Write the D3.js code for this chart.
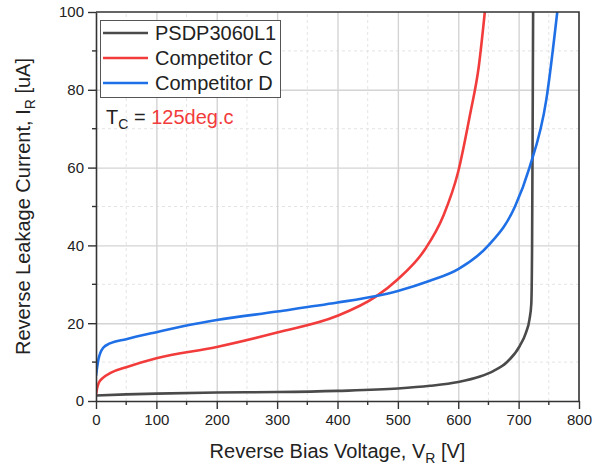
<!DOCTYPE html>
<html lang="en">
  <head>
    <meta charset="utf-8">
    <title>Reverse Leakage Current vs Reverse Bias Voltage</title>
    <script type="text/javascript" src="https://cdn.jsdelivr.net/npm/d3@7"></script>
    <style type="text/css">
      body { margin: 0; background: #fff; }
      text { font-family: "Liberation Sans", Arial, sans-serif; }
    </style>
  </head>
  <body>
    <script type="text/javascript">

      //Width and height
      var w = 599;
      var h = 468;
      var margin = { top: 12, right: 20, bottom: 67, left: 96 };

      //Series names and colors
      var seriesNames = ["PSDP3060L1", "Competitor C", "Competitor D"];
      var seriesColors = ["#4a4a4a", "#f23c3c", "#1f6fe6"];

      //PSDP3060L1
      var psdpV = [0, 50, 100, 200, 300, 400, 500, 553, 600, 636, 658, 680, 702, 712, 718, 721, 722.3, 723.2, 724];
      var psdpI = [1.4, 1.7, 1.9, 2.2, 2.3, 2.6, 3.2, 3.9, 4.9, 6.3, 7.7, 9.9, 14.2, 17.5, 21, 25, 40, 70, 100];

      //Competitor C
      var compCV = [0, 2, 5, 12, 25, 50, 100, 200, 300, 400, 464, 500, 545, 575, 600, 620, 634, 644];
      var compCI = [1.6, 3.4, 4.8, 6.0, 7.3, 8.7, 11.0, 13.9, 17.6, 21.9, 26.9, 31.3, 39, 47.5, 59, 74, 86, 100];

      //Competitor D
      var compDV = [0, 4, 12, 23, 50, 100, 150, 200, 300, 400, 464, 500, 553, 600, 650, 694, 718, 746, 764];
      var compDI = [6.5, 10.7, 13.7, 14.8, 15.9, 17.7, 19.4, 20.8, 23, 25.3, 27, 28.3, 30.9, 33.9, 40, 50, 60, 77.6, 100];

      //Axis ticks
      var xTicks = [0, 100, 200, 300, 400, 500, 600, 700, 800];
      var xMinor = [50, 150, 250, 350, 450, 550, 650, 750];
      var yTicks = [0, 20, 40, 60, 80, 100];
      var yMinor = [10, 30, 50, 70, 90];

      var seriesV = [psdpV, compCV, compDV];
      var seriesI = [psdpI, compCI, compDI];
      var series = seriesNames.map(function(name, k) {
        return {
          name: name,
          color: seriesColors[k],
          points: seriesV[k].map(function(v, i) { return [v, seriesI[k][i]]; })
        };
      });

      var x = d3.scaleLinear().domain([0, 800]).range([margin.left, w - margin.right]);
      var y = d3.scaleLinear().domain([0, 100]).range([h - margin.bottom, margin.top]);

      //Create SVG element
      var svg = d3.select("body")
                  .append("svg")
                  .attr("width", w)
                  .attr("height", h);

      //Minor grid (dashed)
      svg.selectAll("line.xminor")
         .data(xMinor)
         .enter()
         .append("line")
         .attr("x1", function(d) { return x(d); })
         .attr("x2", function(d) { return x(d); })
         .attr("y1", y(0))
         .attr("y2", y(100))
         .style("stroke", "#e4e4e4")
         .style("stroke-dasharray", "3,3")
         .style("stroke-width", 1);

      svg.selectAll("line.yminor")
         .data(yMinor)
         .enter()
         .append("line")
         .attr("x1", x(0))
         .attr("x2", x(800))
         .attr("y1", function(d) { return y(d); })
         .attr("y2", function(d) { return y(d); })
         .style("stroke", "#e4e4e4")
         .style("stroke-dasharray", "3,3")
         .style("stroke-width", 1);

      //Major grid
      svg.append("g")
         .attr("class", "grid")
         .attr("transform", "translate(0," + y(0) + ")")
         .call(d3.axisBottom(x).tickValues(xTicks.slice(1, -1)).tickSize(-(y(0) - y(100))).tickFormat(""))
         .call(function(g) { g.select(".domain").remove(); });

      svg.append("g")
         .attr("class", "grid")
         .attr("transform", "translate(" + x(0) + ",0)")
         .call(d3.axisLeft(y).tickValues(yTicks.slice(1, -1)).tickSize(-(x(800) - x(0))).tickFormat(""))
         .call(function(g) { g.select(".domain").remove(); });

      svg.selectAll(".grid line")
         .style("stroke", "#d4d4d4")
         .style("stroke-width", 1.4);

      //Curves
      svg.append("clipPath")
         .attr("id", "plot-clip")
         .append("rect")
         .attr("x", x(0))
         .attr("y", y(100))
         .attr("width", x(800) - x(0))
         .attr("height", y(0) - y(100));

      var line = d3.line()
                   .x(function(d) { return x(d[0]); })
                   .y(function(d) { return y(d[1]); })
                   .curve(d3.curveMonotoneX);

      svg.append("g")
         .attr("clip-path", "url(#plot-clip)")
         .selectAll("path")
         .data(series)
         .enter()
         .append("path")
         .attr("d", function(d) { return line(d.points); })
         .style("fill", "none")
         .style("stroke", function(d) { return d.color; })
         .style("stroke-width", 2.6)
         .style("stroke-linejoin", "round");

      //Axes
      var xAxis = svg.append("g")
                     .attr("class", "axis")
                     .attr("transform", "translate(0," + y(0) + ")")
                     .call(d3.axisBottom(x).tickValues(xTicks).tickSize(8).tickPadding(5).tickSizeOuter(0));
      xAxis.selectAll("line.minor")
           .data(xMinor)
           .enter()
           .append("line")
           .attr("class", "minor")
           .attr("x1", function(d) { return x(d); })
           .attr("x2", function(d) { return x(d); })
           .attr("y1", 0)
           .attr("y2", 4);

      var yAxis = svg.append("g")
                     .attr("class", "axis")
                     .attr("transform", "translate(" + x(0) + ",0)")
                     .call(d3.axisLeft(y).tickValues(yTicks).tickSize(8).tickPadding(4).tickSizeOuter(0));
      yAxis.selectAll("line.minor")
           .data(yMinor)
           .enter()
           .append("line")
           .attr("class", "minor")
           .attr("x1", 0)
           .attr("x2", -4)
           .attr("y1", function(d) { return y(d); })
           .attr("y2", function(d) { return y(d); });

      svg.selectAll(".axis line").style("stroke", "#333").style("stroke-width", 1.4);
      svg.selectAll(".axis .tick text")
         .style("font-size", "15px")
         .style("fill", "#222");
      svg.selectAll(".axis .domain").style("stroke", "#333").style("stroke-width", 1.6);

      //Top and right frame
      svg.append("path")
         .attr("d", "M" + x(0) + "," + y(100) + "H" + x(800) + "V" + y(0))
         .style("fill", "none")
         .style("stroke", "#333")
         .style("stroke-width", 1.6);

      //Axis titles
      var xTitle = svg.append("text")
                      .attr("x", (x(0) + x(800)) / 2)
                      .attr("y", 458)
                      .attr("text-anchor", "middle")
                      .style("font-size", "20px")
                      .style("fill", "#222");
      xTitle.append("tspan").text("Reverse Bias Voltage, V");
      xTitle.append("tspan").attr("dy", 5).style("font-size", "14px").text("R");
      xTitle.append("tspan").attr("dy", -5).text(" [V]");

      var yTitle = svg.append("text")
                      .attr("transform", "translate(30," + (y(0) + y(100)) / 2 + ") rotate(-90)")
                      .attr("text-anchor", "middle")
                      .style("font-size", "20px")
                      .style("fill", "#222");
      yTitle.append("tspan").text("Reverse Leakage Current, I");
      yTitle.append("tspan").attr("dy", 5).style("font-size", "14px").text("R");
      yTitle.append("tspan").attr("dy", -5).text(" [uA]");

      //Legend
      var legend = svg.append("g");
      legend.append("rect")
            .attr("x", 100.5)
            .attr("y", 20.5)
            .attr("width", 180)
            .attr("height", 77)
            .style("fill", "#fff")
            .style("stroke", "#555")
            .style("stroke-width", 1);

      var items = legend.selectAll("g.item")
                        .data(series)
                        .enter()
                        .append("g")
                        .attr("transform", function(d, i) { return "translate(0," + (33 + i * 25) + ")"; });
      items.append("line")
           .attr("x1", 103)
           .attr("x2", 148)
           .attr("y1", 0)
           .attr("y2", 0)
           .style("stroke", function(d) { return d.color; })
           .style("stroke-width", 2.6);
      items.append("text")
           .attr("x", 155)
           .attr("y", 7)
           .style("font-size", "20px")
           .style("fill", "#222")
           .text(function(d) { return d.name; });

      //Case temperature note
      var note = svg.append("text")
                    .attr("x", 106)
                    .attr("y", 124)
                    .style("font-size", "20px")
                    .style("fill", "#222");
      note.append("tspan").text("T");
      note.append("tspan").attr("dy", 5).style("font-size", "14px").text("C");
      note.append("tspan").attr("dy", -5).text(" = ");
      note.append("tspan").style("fill", "#f23c3c").text("125deg.c");

    </script>
  </body>
</html>
